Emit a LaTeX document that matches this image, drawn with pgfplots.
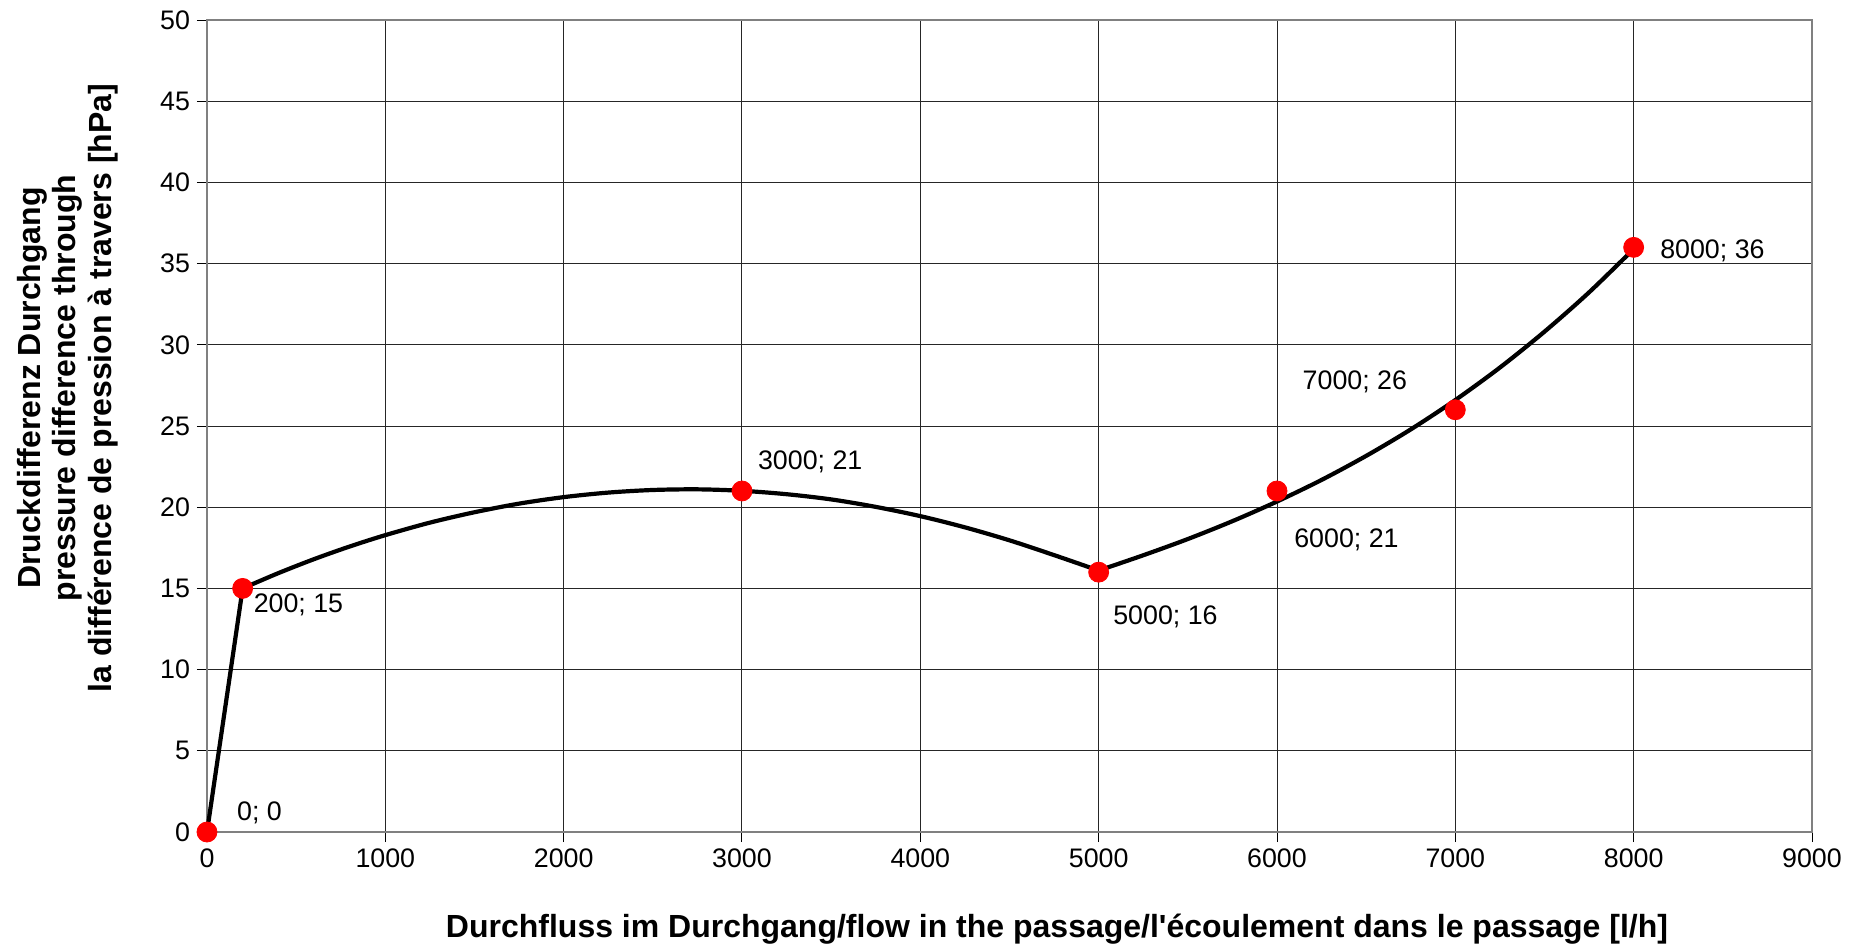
\documentclass[border=0pt]{standalone}
\usepackage{fontspec}
\setmainfont{Liberation Sans}
\usepackage{pgfplots}
\pgfplotsset{compat=1.18}
\begin{document}
\begin{tikzpicture}
\begin{axis}[
  scale only axis, width=802.5bp, height=406bp,
  xmin=0, xmax=9000, ymin=0, ymax=50,
  xtick={0,1000,...,9000}, ytick={0,5,...,50},
  grid=major, major grid style={black!85, line width=0.5bp},
  axis line style={gray, line width=1bp},
  tick align=outside, tick pos=left, major tick length=5bp,
  tick style={black, line width=0.5bp},
  /pgf/number format/assume math mode=true,
  /pgf/number format/set thousands separator={},
  ticklabel style={font=\fontsize{13.4bp}{16bp}\selectfont},
  xlabel={Durchfluss im Durchgang/flow in the passage/l\textquotesingle écoulement dans le passage [l/h]},
  ylabel={Druckdifferenz Durchgang\\pressure difference through\\la différence de pression à travers [hPa]},
  label style={font=\bfseries\fontsize{16bp}{17.75bp}\selectfont},
  xlabel style={at={(axis description cs:0.5296,-0.1195)}, anchor=center},
  ylabel style={at={(axis description cs:-0.0869,0.5468)}, anchor=center, align=center},
  clip=false,
]
\addplot[only marks, mark=*, mark size=5bp, red, mark options={draw=red, fill=red}] coordinates {(0,0)(200,15)(3000,21)(5000,16)(6000,21)(7000,26)(8000,36)};
\addplot[black, line width=2.1bp, no marks, line join=round] coordinates {(0,0)(200,15)};
\addplot[black, line width=2.1bp, no marks, smooth, line join=round] coordinates {(200,15.0)(400,15.94)(600,16.8)(800,17.58)(1000,18.28)(1250,19.05)(1500,19.69)(1750,20.22)(2000,20.62)(2250,20.9)(2500,21.06)(2750,21.1)(3000,21.01)(3250,20.8)(3500,20.48)(3750,20.02)(4000,19.45)(4250,18.76)(4500,17.96)(4750,17.05)(5000,16.1)};
\addplot[black, line width=2.1bp, no marks, smooth, line join=round] coordinates {(5000,16.1)(5250,17.04)(5500,18.04)(5750,19.14)(6000,20.35)(6250,21.68)(6500,23.16)(6750,24.79)(7000,26.6)(7250,28.6)(7500,30.81)(7750,33.23)(8000,35.9)};
\begin{scope}[every node/.style={anchor=west, inner sep=0pt, font=\fontsize{13.4bp}{16bp}\selectfont}]
\node at (axis cs:167,1.16) {0; 0};
\node at (axis cs:260,13.98) {200; 15};
\node at (axis cs:3088,22.8) {3000; 21};
\node at (axis cs:5080,13.26) {5000; 16};
\node at (axis cs:6095,18.0) {6000; 21};
\node at (axis cs:6142,27.7) {7000; 26};
\node at (axis cs:8147,35.78) {8000; 36};
\end{scope}
\end{axis}
\pgfresetboundingbox
\path[use as bounding box] (-103.5bp,-58.5bp) rectangle (824.5bp,416bp);
\end{tikzpicture}
\end{document}
